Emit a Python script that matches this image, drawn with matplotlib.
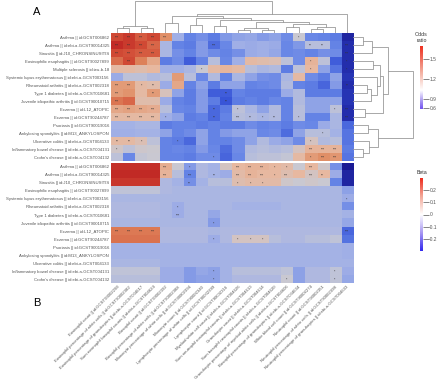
import numpy as np
import matplotlib.pyplot as plt
from matplotlib.colors import LinearSegmentedColormap, TwoSlopeNorm, FuncNorm
from matplotlib.cm import ScalarMappable

plt.rcParams['font.family'] = ['Liberation Sans', 'DejaVu Sans']

# ---- data ----
top_rows = [
    "Asthma || id:GCST006862",
    "Asthma || id:ebi-a-GCST90014325",
    "Sinusitis || id:J10_CHRONSINUSITIS",
    "Eosinophilic esophagitis || id:GCST90027899",
    "Multiple sclerosis || id:ieu-b-18",
    "Systemic lupus erythematosus || id:ebi-a-GCST003156",
    "Rheumatoid arthritis || id:ebi-a-GCST002318",
    "Type 1 diabetes || id:ebi-a-GCST010681",
    "Juvenile idiopathic arthritis || id:GCST90010715",
    "Eczema || id:L12_ATOPIC",
    "Eczema || id:GCST90244787",
    "Psoriasis || id:GCST90019016",
    "Ankylosing spondylitis || id:M13_ANKYLOSPON",
    "Ulcerative colitis || id:ebi-a-GCST004133",
    "Inflammatory bowel disease || id:ebi-a-GCST004131",
    "Crohn's disease || id:ebi-a-GCST004132",
]
bottom_rows = [r for r in top_rows if not r.startswith("Multiple")]

traits = [
    "Eosinophil count || id:GCST90002298",
    "Eosinophil percentage of white cells || id:GCST90002382",
    "Eosinophil percentage of granulocytes || id:ebi-a-GCST004617",
    "Sum eosinophil basophil counts || id:ebi-a-GCST004624",
    "Basophil count || id:GCST90002392",
    "Basophil percentage of white cells || id:GCST90002388",
    "Monocyte percentage of white cells || id:GCST90002394",
    "Monocyte count || id:GCST90002340",
    "Lymphocyte percentage of white cells || id:GCST90002399",
    "Lymphocyte count || id:GCST90002316",
    "Myeloid white cell count || id:ebi-a-GCST004626",
    "Sum neutrophil eosinophil counts || id:ebi-a-GCST004613",
    "Granulocyte count || id:ebi-a-GCST004614",
    "Sum basophil neutrophil counts || id:ebi-a-GCST004620",
    "Granulocyte percentage of myeloid white cells || id:ebi-a-GCST004606",
    "Basophil percentage of granulocytes || id:ebi-a-GCST004634",
    "White blood cell count || id:GCST90002274",
    "Neutrophil count || id:GCST90002351",
    "Neutrophil percentage of white cells || id:GCST90002398",
    "Neutrophil percentage of granulocytes || id:ebi-a-GCST004633",
]

odds = np.array([
    [1.50, 1.55, 1.45, 1.50, 1.30, 0.93, 0.82, 0.85, 0.80, 0.87, 0.90, 0.91, 0.88, 0.90, 0.84, 1.00, 0.83, 0.82, 0.80, 0.58],
    [1.60, 1.55, 1.50, 1.42, 0.95, 0.82, 0.80, 0.88, 0.76, 0.83, 0.93, 0.92, 0.93, 0.92, 0.83, 0.87, 0.97, 0.97, 0.82, 0.60],
    [1.50, 1.48, 1.45, 1.45, 0.95, 0.85, 0.82, 0.88, 0.84, 0.82, 0.85, 0.92, 0.93, 0.91, 0.83, 0.84, 0.82, 0.85, 0.84, 0.60],
    [1.40, 1.50, 1.35, 1.20, 0.80, 0.84, 0.72, 0.82, 0.97, 0.83, 0.93, 1.12, 1.10, 1.08, 0.98, 0.84, 1.15, 0.98, 0.72, 0.60],
    [1.12, 1.12, 1.10, 1.13, 0.93, 0.93, 0.95, 1.00, 1.12, 1.14, 1.12, 0.97, 0.95, 0.96, 0.80, 0.98, 1.13, 0.90, 0.78, 0.60],
    [0.92, 0.98, 0.98, 0.96, 0.97, 1.25, 0.97, 0.83, 0.96, 0.82, 0.95, 0.90, 0.85, 0.84, 0.95, 1.12, 0.84, 0.80, 0.90, 0.62],
    [1.25, 1.25, 1.12, 1.10, 0.92, 1.20, 0.82, 0.90, 0.80, 0.90, 0.90, 0.82, 0.83, 0.84, 0.96, 0.82, 0.80, 0.74, 0.88, 0.60],
    [1.25, 1.28, 1.12, 1.25, 1.06, 0.90, 0.80, 0.88, 0.72, 0.72, 0.82, 0.80, 0.80, 0.80, 0.92, 0.96, 0.80, 0.80, 0.80, 0.62],
    [1.38, 1.42, 1.10, 1.10, 0.92, 0.82, 0.80, 0.88, 0.80, 0.70, 0.80, 0.82, 0.80, 0.83, 0.82, 0.96, 0.90, 0.90, 0.90, 0.62],
    [1.20, 1.22, 1.20, 1.18, 0.97, 0.83, 0.82, 0.88, 0.75, 0.80, 0.98, 0.95, 0.90, 0.96, 0.82, 0.97, 0.90, 0.90, 0.98, 0.60],
    [1.12, 1.12, 1.12, 1.12, 0.93, 0.90, 0.80, 0.82, 0.75, 0.82, 0.97, 0.96, 0.95, 0.96, 0.82, 0.97, 0.82, 0.82, 0.95, 0.60],
    [0.94, 0.94, 0.95, 0.95, 0.80, 0.82, 0.82, 0.80, 0.82, 0.80, 0.80, 0.84, 0.82, 0.83, 0.80, 0.84, 0.83, 0.92, 0.95, 0.75],
    [0.93, 0.93, 0.94, 0.94, 0.90, 0.82, 0.84, 0.90, 0.82, 0.88, 0.90, 0.90, 0.83, 0.84, 0.76, 0.90, 0.97, 0.97, 0.94, 0.78],
    [1.12, 1.12, 1.08, 0.98, 0.82, 0.80, 0.75, 0.90, 0.82, 0.82, 0.84, 0.90, 0.96, 0.92, 0.90, 0.84, 1.05, 0.96, 0.97, 0.78],
    [1.03, 0.98, 1.02, 1.01, 0.82, 0.83, 0.82, 0.88, 0.83, 0.76, 0.84, 0.96, 0.97, 0.96, 0.97, 1.05, 1.15, 1.15, 1.15, 0.80],
    [0.98, 0.83, 0.99, 1.00, 0.82, 0.82, 0.80, 0.84, 0.84, 0.74, 0.83, 0.97, 0.98, 0.98, 0.99, 1.12, 1.25, 1.30, 1.27, 0.78],
])

beta = np.array([
    [0.27, 0.27, 0.27, 0.27, 0.08, 0.00, -0.08, -0.03, -0.04, 0.02, 0.06, 0.07, 0.07, 0.06, 0.05, 0.00, 0.06, 0.01, -0.10, -0.30],
    [0.28, 0.28, 0.28, 0.28, 0.07, -0.02, -0.12, -0.03, -0.04, -0.05, 0.05, 0.07, 0.06, 0.06, 0.04, 0.06, 0.02, 0.06, -0.05, -0.28],
    [0.26, 0.26, 0.26, 0.26, -0.03, -0.04, -0.10, -0.04, -0.02, -0.02, 0.04, 0.05, 0.05, 0.05, 0.01, 0.00, 0.01, 0.00, -0.12, -0.28],
    [-0.01, -0.01, -0.01, -0.01, -0.03, -0.035, -0.035, -0.035, -0.035, -0.035, -0.035, -0.035, -0.035, -0.035, -0.035, -0.035, -0.035, -0.035, -0.035, -0.07],
    [-0.035, -0.035, -0.035, -0.035, -0.035, -0.035, -0.035, -0.035, -0.035, -0.035, -0.035, -0.035, -0.035, -0.035, -0.035, -0.035, -0.035, -0.035, -0.035, -0.05],
    [-0.03, -0.03, -0.03, -0.03, -0.035, -0.05, -0.035, -0.035, -0.035, -0.035, -0.04, -0.04, -0.04, -0.04, -0.035, -0.035, -0.035, -0.035, -0.035, -0.10],
    [-0.03, -0.03, -0.03, -0.03, -0.035, -0.05, -0.035, -0.035, -0.06, -0.035, -0.035, -0.035, -0.035, -0.035, -0.035, -0.035, -0.035, -0.035, -0.035, -0.04],
    [-0.035, -0.035, -0.035, -0.035, -0.035, -0.035, -0.035, -0.035, -0.08, -0.035, -0.035, -0.035, -0.035, -0.035, -0.035, -0.035, -0.035, -0.035, -0.035, -0.06],
    [0.17, 0.17, 0.17, 0.17, -0.03, -0.03, -0.03, -0.03, -0.035, -0.03, -0.03, -0.03, -0.03, -0.03, -0.03, -0.03, -0.03, -0.03, -0.03, -0.17],
    [0.18, 0.18, 0.18, 0.18, -0.03, -0.03, -0.03, -0.03, -0.05, -0.03, 0.02, 0.02, 0.02, -0.02, -0.03, -0.03, -0.02, -0.02, -0.01, -0.15],
    [-0.04, -0.04, -0.04, -0.04, -0.04, -0.04, -0.04, -0.04, -0.04, -0.04, -0.04, -0.04, -0.04, -0.04, -0.04, -0.04, -0.04, -0.04, -0.04, -0.045],
    [-0.04, -0.04, -0.04, -0.04, -0.04, -0.04, -0.04, -0.04, -0.04, -0.04, -0.04, -0.04, -0.04, -0.04, -0.04, -0.04, -0.04, -0.04, -0.04, -0.045],
    [-0.035, -0.035, -0.035, -0.035, -0.04, -0.04, -0.04, -0.04, -0.04, -0.04, -0.04, -0.04, -0.04, -0.04, -0.04, -0.04, -0.04, -0.04, -0.04, -0.04],
    [-0.01, -0.01, -0.01, -0.01, -0.05, -0.05, -0.08, -0.06, -0.07, -0.04, -0.02, -0.02, -0.02, -0.02, -0.01, -0.07, -0.03, -0.03, -0.01, -0.05],
    [-0.02, -0.02, -0.02, -0.02, -0.05, -0.05, -0.08, -0.07, -0.07, -0.04, -0.03, -0.03, -0.03, -0.03, 0.00, -0.07, -0.03, -0.03, -0.01, -0.06],
])

# significance marks: (row, col, label)
odds_stars = [
    (0, 0, "***"), (0, 1, "***"), (0, 2, "***"), (0, 3, "***"), (0, 4, "***"), (0, 15, "*"),
    (1, 0, "***"), (1, 1, "***"), (1, 2, "***"), (1, 3, "***"), (1, 8, "***"), (1, 16, "**"), (1, 17, "**"), (1, 19, "***"),
    (2, 0, "***"), (2, 1, "***"), (2, 2, "***"), (2, 3, "***"), (2, 19, "***"),
    (3, 1, "***"), (3, 16, "*"), (3, 19, "*"),
    (4, 7, "*"), (4, 16, "*"), (4, 19, "*"),
    (6, 0, "***"), (6, 1, "***"), (6, 2, "*"), (6, 3, "**"), (6, 19, "**"),
    (7, 0, "***"), (7, 3, "**"), (7, 9, "**"),
    (8, 0, "***"), (8, 9, "**"),
    (9, 0, "***"), (9, 1, "***"), (9, 2, "***"), (9, 3, "***"), (9, 8, "**"), (9, 10, "*"), (9, 18, "*"), (9, 19, "***"),
    (10, 0, "***"), (10, 1, "***"), (10, 2, "***"), (10, 3, "***"), (10, 4, "*"), (10, 8, "**"), (10, 10, "***"),
    (10, 11, "**"), (10, 12, "*"), (10, 13, "**"), (10, 15, "*"), (10, 19, "***"),
    (12, 17, "*"),
    (13, 0, "**"), (13, 1, "**"), (13, 2, "*"), (13, 5, "*"), (13, 16, "*"),
    (14, 0, "*"), (14, 16, "***"), (14, 17, "***"), (14, 18, "***"),
    (15, 8, "*"), (15, 16, "*"), (15, 17, "***"), (15, 18, "***"),
]
beta_stars = [
    (0, 4, "***"), (0, 6, "*"), (0, 10, "***"), (0, 11, "***"), (0, 12, "***"), (0, 13, "*"), (0, 14, "*"), (0, 16, "***"),
    (1, 4, "***"), (1, 6, "***"), (1, 8, "**"), (1, 10, "***"), (1, 11, "***"), (1, 12, "***"), (1, 13, "*"),
    (1, 14, "***"), (1, 16, "***"), (1, 17, "**"),
    (2, 6, "**"), (2, 10, "*"), (2, 11, "*"), (2, 12, "*"),
    (4, 19, "*"), (5, 5, "*"), (6, 5, "***"), (7, 8, "*"),
    (8, 0, "***"), (8, 1, "***"), (8, 2, "***"), (8, 3, "***"), (8, 19, "***"),
    (9, 8, "*"), (9, 10, "*"), (9, 11, "*"), (9, 12, "*"),
    (13, 8, "*"), (13, 18, "*"), (14, 8, "*"), (14, 14, "*"), (14, 18, "*"),
]

# dendrograms: (left child, right child, height in px); leaves are 0..n-1 in display order
col_merges = [
    (0, 1, 5), (2, 3, 5), (20, 21, 7), (4, 5, 10), (6, 7, 8), (8, 9, 7),
    (10, 11, 3), (12, 13, 3), (26, 27, 5), (14, 15, 6), (16, 17, 4), (30, 18, 6),
    (29, 31, 9), (28, 32, 11), (25, 33, 13), (24, 34, 15), (23, 35, 17), (36, 19, 19), (22, 37, 32),
]
row_merges = [
    (0, 1, 10), (16, 2, 19), (9, 10, 12), (6, 7, 14), (19, 8, 18), (3, 4, 20),
    (5, 20, 24), (21, 22, 27), (23, 18, 30), (17, 24, 35), (11, 12, 15), (14, 15, 10),
    (13, 27, 16), (26, 28, 25), (25, 29, 60),
]

# ---- figure ----
W, H = 440, 379
fig = plt.figure(figsize=(W / 100, H / 100), dpi=100)


def box(x0, y0, x1, y1):
    return fig.add_axes([x0 / W, 1 - y1 / H, (x1 - x0) / W, (y1 - y0) / H])


heat_cmap = LinearSegmentedColormap.from_list('heat', [
    (0.0, '#1a1a94'), (0.15, '#3450d6'), (0.3, '#6584e6'), (0.43, '#a4b2e6'),
    (0.5, '#c9c9d2'), (0.6, '#e7b8a0'), (0.75, '#e08a60'), (0.88, '#d24c36'), (1.0, '#bc1e20')])
bar_cmap_or = LinearSegmentedColormap.from_list('bar_or', [
    (0.0, '#7050f0'), (0.15, '#b4a4f2'), (0.3, '#ffffff'), (0.6, '#f2aa9a'), (1.0, '#ee3020')])
bar_cmap_beta = LinearSegmentedColormap.from_list('bar_beta', [
    (0.0, '#3228ee'), (0.25, '#a898f2'), (0.5, '#ffffff'), (0.75, '#f2a898'), (1.0, '#ee2a1c')])

x0, x1 = 111, 353
label_kw = dict(fontsize=3.1, color='#555555')


def heat(ax, vals, norm, rows, stars):
    ax.imshow(vals, cmap=heat_cmap, norm=norm, aspect='auto', interpolation='nearest')
    for r, c, s in stars:
        ax.text(c, r + 0.1, s, ha='center', va='center', fontsize=2.5, color='#333333')
    ax.set_yticks(range(len(rows)))
    ax.set_yticklabels(rows, **label_kw)
    ax.tick_params(length=0, pad=1.5)
    for sp in ax.spines.values():
        sp.set_visible(False)


ax_top = box(x0, 33, x1, 161)
heat(ax_top, odds, TwoSlopeNorm(vcenter=1.0, vmin=0.55, vmax=1.65), top_rows, odds_stars)
ax_top.set_xticks([])

ax_bot = box(x0, 163, x1, 283)
heat(ax_bot, beta, TwoSlopeNorm(vcenter=0.0, vmin=-0.3, vmax=0.3), bottom_rows, beta_stars)
ax_bot.set_xticks(range(len(traits)))
ax_bot.set_xticklabels(traits, rotation=45, ha='right', rotation_mode='anchor', **label_kw)


def tree(ax, merges, n, vertical):
    pos = {i: float(i) for i in range(n)}
    hgt = {i: 0.0 for i in range(n)}
    for k, (a, b, h) in enumerate(merges):
        xs = [pos[a], pos[a], pos[b], pos[b]]
        ys = [hgt[a], h, h, hgt[b]]
        if vertical:
            ax.plot(xs, ys, color='#9a9a9a', lw=0.6)
        else:
            ax.plot(ys, xs, color='#9a9a9a', lw=0.6)
        pos[n + k] = (pos[a] + pos[b]) / 2
        hgt[n + k] = h
    ax.axis('off')


ax_cd = box(x0, 0, x1, 33)
tree(ax_cd, col_merges, len(traits), True)
ax_cd.set_xlim(-0.5, len(traits) - 0.5)
ax_cd.set_ylim(0, 33)

ax_rd = box(x1, 33, 415, 161)
tree(ax_rd, row_merges, len(top_rows), False)
ax_rd.set_ylim(len(top_rows) - 0.5, -0.5)
ax_rd.set_xlim(0, 62)

# colour keys
or_vals = [0.567, 0.9, 1.69]
or_pos = [0.0, 0.159, 1.0]
or_norm = FuncNorm((lambda v: np.interp(v, or_vals, or_pos), lambda p: np.interp(p, or_pos, or_vals)),
                   vmin=or_vals[0], vmax=or_vals[-1])


def key(cax, cmap, norm, ticks, title):
    cb = fig.colorbar(ScalarMappable(norm=norm, cmap=cmap), cax=cax)
    cb.outline.set_visible(False)
    cb.set_ticks(ticks)
    cb.set_ticklabels([f"{t:g}" for t in ticks])
    cax.tick_params(length=4, width=0.5, color='#555555', labelsize=3.5, labelcolor='#555555', pad=0.5)
    cax.set_title(title, fontsize=3.8, color='#333333', pad=3)


key(box(420, 46, 423, 109), bar_cmap_or, or_norm, [0.6, 0.9, 1.2, 1.5], "Odds\nratio")
key(box(420, 178, 423, 251), bar_cmap_beta, TwoSlopeNorm(vcenter=0, vmin=-0.3, vmax=0.3),
    [-0.2, -0.1, 0, 0.1, 0.2], "Beta")

fig.text(37 / W, 1 - 12 / H, "A", fontsize=8, ha='center', va='center')
fig.text(37 / W, 1 - 303 / H, "B", fontsize=8, ha='center', va='center')

fig.savefig("out.png", dpi=100)
